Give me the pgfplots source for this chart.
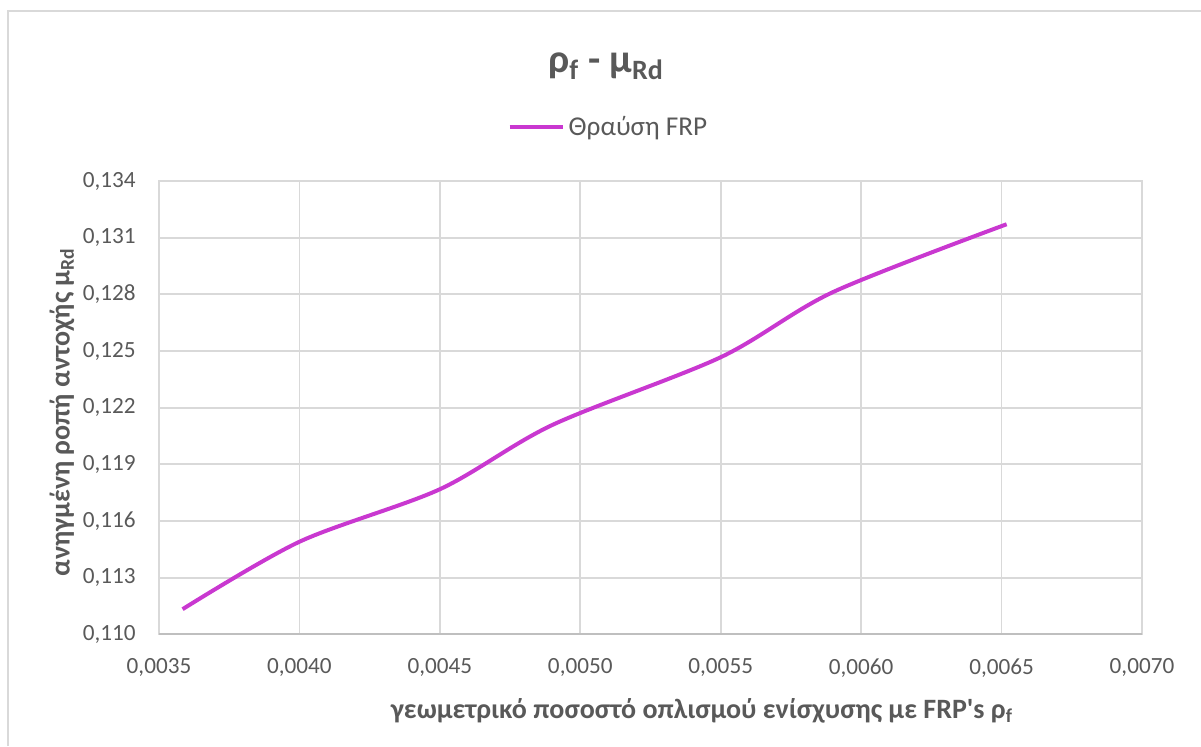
\documentclass[border=0pt]{standalone}
\usepackage{pgfplots}
\pgfplotsset{compat=1.18}
\usepackage{fontspec}
\setmainfont{Carlito}

\definecolor{curve}{RGB}{201,56,208}
\definecolor{gridgray}{HTML}{D9D9D9}
\definecolor{basegray}{HTML}{BFBFBF}
\definecolor{txtgray}{HTML}{595959}

\begin{document}
\begin{tikzpicture}
% picture units: 1 px = 0.5 pt, origin at bottom-left
\useasboundingbox (0,0) rectangle (600.5pt,373pt);
% chart frame
\draw[gridgray, line width=1pt] (3.75pt,0pt) -- (3.75pt,367.25pt) -- (600.5pt,367.25pt);

\begin{axis}[
  at={(79.5pt,55.85pt)}, anchor=south west,
  width=491.5pt, height=226.65pt, scale only axis,
  xmin=0.0035, xmax=0.0070,
  ymin=0.110, ymax=0.134,
  xtick={0.0035,0.0040,0.0045,0.0050,0.0055,0.0060,0.0065,0.0070},
  ytick={0.110,0.113,0.116,0.119,0.122,0.125,0.128,0.131,0.134},
  scaled x ticks=false, scaled y ticks=false,
  grid=major,
  major grid style={gridgray, line width=0.9pt},
  axis line style={gridgray, line width=0.9pt},
  major tick length=0pt,
  extra y ticks={0.110},
  extra y tick labels={},
  extra y tick style={grid=major, major grid style={basegray, line width=1pt}},
  ticklabel style={font=\fontsize{11.6}{13}\selectfont, text=txtgray, inner sep=0pt},
  xticklabel style={/pgf/number format/.cd, fixed, fixed zerofill, precision=4, use comma, assume math mode=true, /tikz/.cd, anchor=north, yshift=-12pt},
  yticklabel style={/pgf/number format/.cd, fixed, fixed zerofill, precision=3, use comma, assume math mode=true, /tikz/.cd, anchor=east, xshift=-11.5pt},
  legend style={draw=none, fill=none, at={(0.4583,1.119)}, anchor=center,
    font=\fontsize{13.6}{15}\selectfont, text=txtgray, inner sep=0pt},
  legend image code/.code={\draw[#1, line width=2pt] (0pt,0pt) -- (26.5pt,0pt);},
]
\addplot[curve, line width=2pt, smooth, tension=0.5] coordinates {
  (0.003584,0.11133)
  (0.0040,0.11490)
  (0.0045,0.11768)
  (0.0049,0.12108)
  (0.0055,0.12467)
  (0.0059,0.12812)
  (0.006518,0.13171)
};
\addlegendentry{Θραύση FRP}
\end{axis}

% title
\node[anchor=base, text=txtgray, font=\fontsize{20}{24}\selectfont\bfseries] at (303pt,336.5pt)
  {ρ\textsubscript{f} - μ\textsubscript{Rd}};
% axis titles
\node[anchor=base, text=txtgray, font=\fontsize{14}{16}\selectfont\bfseries] at (351pt,14pt)
  {γεωμετρικό ποσοστό οπλισμού ενίσχυσης με FRP\textquotesingle s ρ\textsubscript{f}};
\node[rotate=90, anchor=center, text=txtgray, font=\fontsize{14}{16}\selectfont\bfseries] at (31pt,167pt)
  {ανηγμένη ροπή αντοχής μ\textsubscript{Rd}};
\end{tikzpicture}
\end{document}
